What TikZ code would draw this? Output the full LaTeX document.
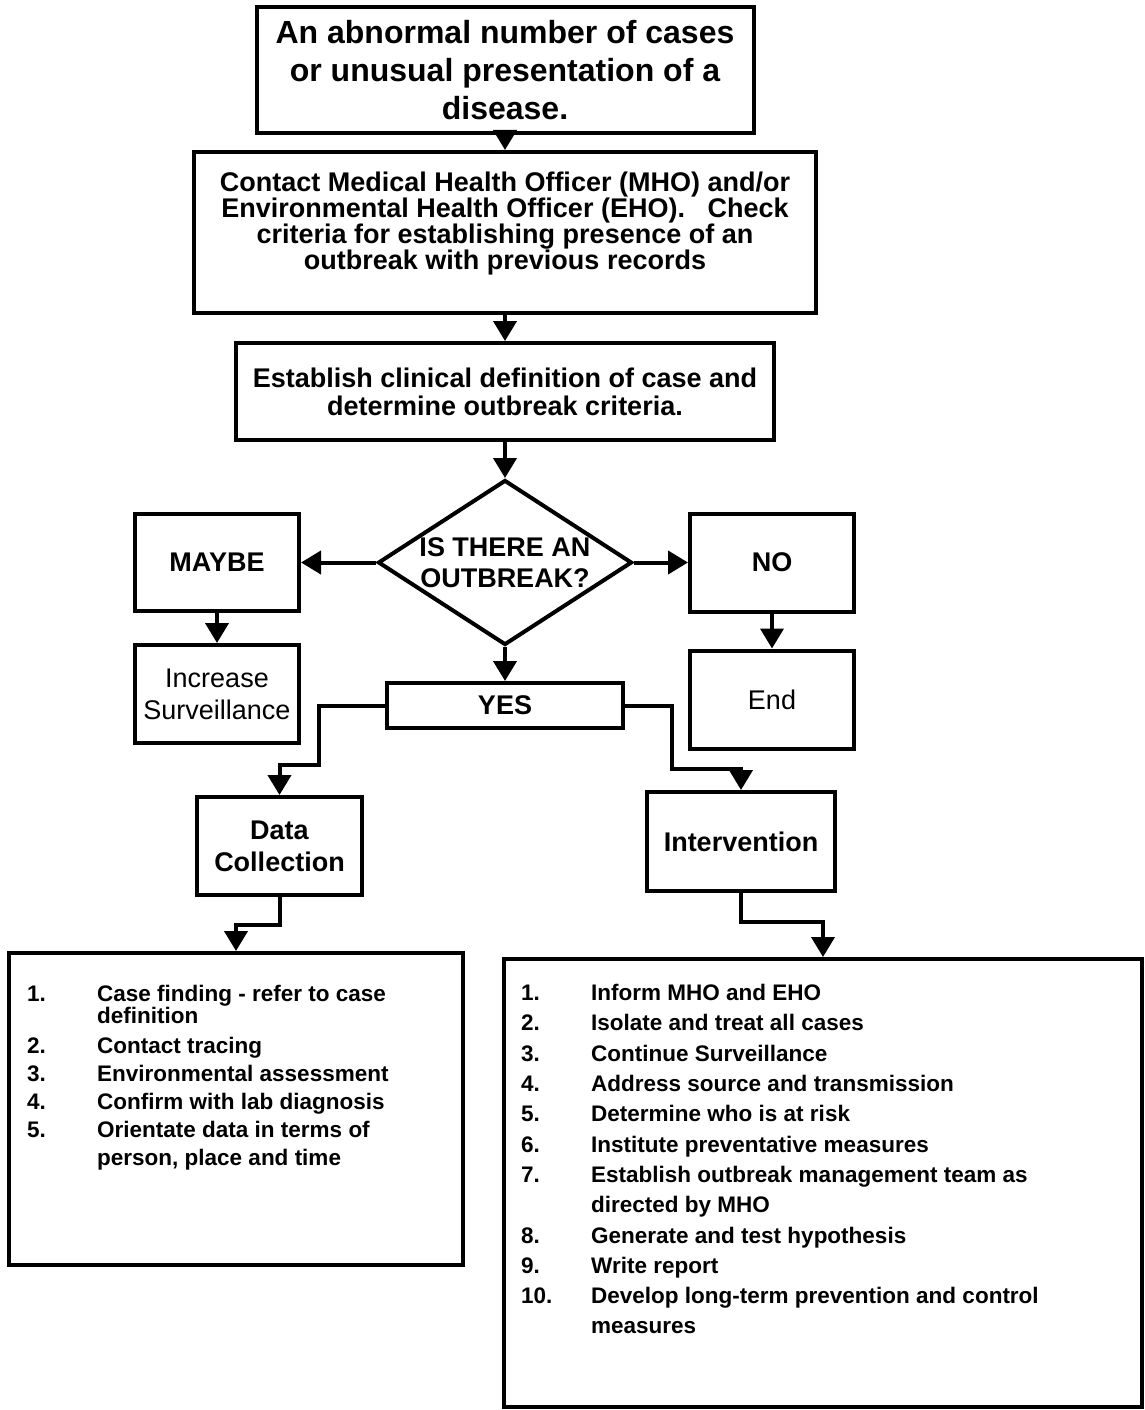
\documentclass[tikz,border=0pt]{standalone}
\usepackage{fontspec}
\setmainfont{Liberation Sans}
\usetikzlibrary{arrows.meta, shapes.geometric, positioning}

\begin{document}
\begin{tikzpicture}[x=1pt, y=-1pt,
    box/.style={draw, line width=4pt, inner sep=0pt, align=center,
      font=\bfseries\fontsize{27}{28}\selectfont},
    plain/.style={box, font=\fontsize{27}{32}\selectfont},
    items/.style={inner sep=0pt, anchor=north west},
    arr/.style={line width=4pt, -{Triangle[length=20pt, width=23pt]}}]
  \useasboundingbox (0,0) rectangle (1145,1410);

  % main column
  \node[box, minimum width=497pt, minimum height=126pt,
    font=\bfseries\fontsize{32}{38}\selectfont] (onset) at (505,70)
    {An abnormal number of cases\\or unusual presentation of a\\disease.};
  \node[box, below=15pt of onset, minimum width=622pt, minimum height=161pt,
    font=\bfseries\fontsize{27}{26}\selectfont, text depth=24pt] (contact)
    {Contact Medical Health Officer (MHO) and/or\\
     Environmental Health Officer (EHO).\ \ \ Check\\
     criteria for establishing presence of an\\
     outbreak with previous records};
  \node[box, below=26pt of contact, minimum width=538pt, minimum height=97pt] (define)
    {Establish clinical definition of case and\\determine outbreak criteria.};
  \node[box, diamond, below=36pt of define, minimum width=254pt, minimum height=165pt,
    label={[font=\bfseries\fontsize{27}{31}\selectfont, align=center]center:{IS THERE AN\\OUTBREAK?}}] (outbreak) {};

  % side branches
  \node[box, left=75pt of outbreak, minimum width=164pt, minimum height=97pt] (maybe) {MAYBE};
  \node[plain, below=30pt of maybe, minimum width=164pt, minimum height=98pt] (increase)
    {Increase\\Surveillance};
  \node[box, right=54pt of outbreak, minimum width=164pt, minimum height=98pt] (no) {NO};
  \node[plain, below=35pt of no, minimum width=164pt, minimum height=98pt] (end) {End};
  \node[box, below=34pt of outbreak, minimum width=236pt, minimum height=45pt] (yes) {YES};

  % after YES
  \node[box, minimum width=165pt, minimum height=98pt,
    font=\bfseries\fontsize{27}{32}\selectfont] (dc) at (279.5,846) {Data\\Collection};
  \node[box, minimum width=188pt, minimum height=99pt] (interv) at (741,841.5) {Intervention};

  \node[box, minimum width=454pt, minimum height=312pt,
    label={[items, xshift=20pt, yshift=-30.6pt,
      font=\bfseries\fontsize{22.5}{28}\selectfont]north west:{%
      \begin{tabular}{@{}p{70pt}@{}l@{}}
        1. & Case finding - refer to case\\[-6pt]
           & definition\\[2pt]
        2. & Contact tracing\\
        3. & Environmental assessment\\
        4. & Confirm with lab diagnosis\\
        5. & Orientate data in terms of\\
           & person, place and time
      \end{tabular}}}] (listL) at (236,1109) {};
  \node[box, minimum width=638pt, minimum height=448pt,
    label={[items, xshift=19pt, yshift=-22.2pt,
      font=\bfseries\fontsize{22.5}{30.3}\selectfont]north west:{%
      \begin{tabular}{@{}p{70pt}@{}l@{}}
        1.  & Inform MHO and EHO\\
        2.  & Isolate and treat all cases\\
        3.  & Continue Surveillance\\
        4.  & Address source and transmission\\
        5.  & Determine who is at risk\\
        6.  & Institute preventative measures\\
        7.  & Establish outbreak management team as\\
            & directed by MHO\\
        8.  & Generate and test hypothesis\\
        9.  & Write report\\
        10. & Develop long-term prevention and control\\
            & measures
      \end{tabular}}}] (listR) at (823,1183) {};

  % connectors
  \foreach \a/\b in {onset/contact, contact/define, define/outbreak,
                     outbreak/yes, maybe/increase, no/end}
    \draw[arr] (\a.south) -- (\b.north);
  \draw[arr] (outbreak.west) -- (maybe.east);
  \draw[arr] (outbreak.east) -- (no.west);

  \coordinate (jogL) at (319,765);
  \coordinate (jogR) at (672,769);
  \coordinate (jogDC) at (236,925);
  \coordinate (jogIV) at (823,922);
  \draw[arr] (yes.west) -| (jogL) -| (dc.north);
  \draw[arr] (yes.east) -| (jogR) -| (interv.north);
  \draw[arr] (dc.south) |- (jogDC) -- (listL.north);
  \draw[arr] (interv.south) |- (jogIV) -- (listR.north);
\end{tikzpicture}
\end{document}
